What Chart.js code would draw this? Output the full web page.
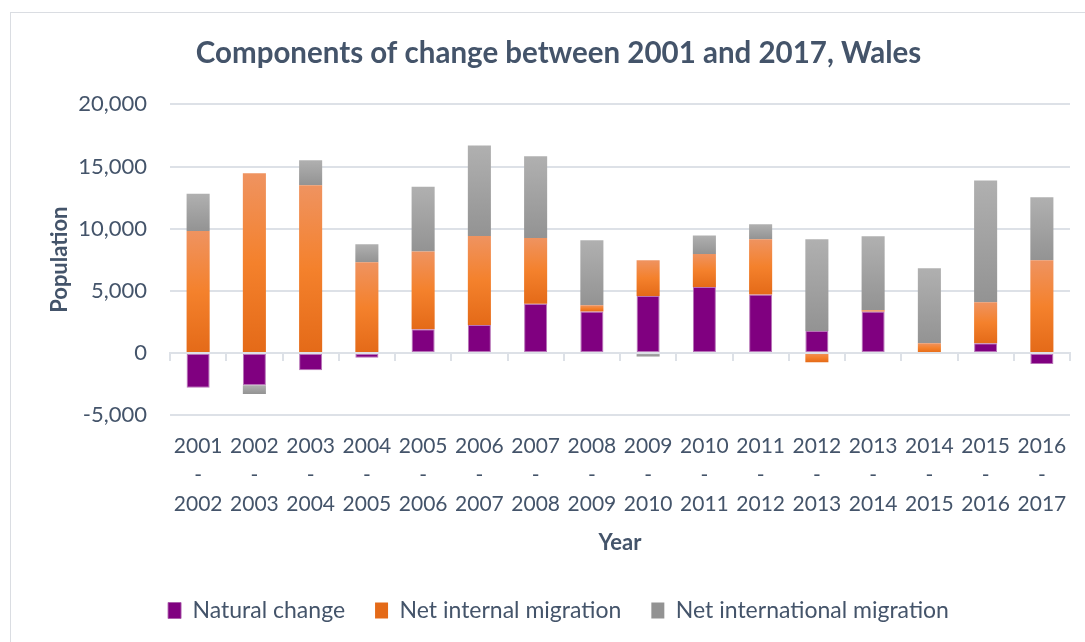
<!DOCTYPE html>
<html lang="en">

<head>
    <meta charset="UTF-8">
    <title>Components of change between 2001 and 2017, Wales</title>
    <style>
        body {
            margin: 0;
            padding: 0;
            background: #fff;
            overflow: hidden;
        }

        .frame {
            position: absolute;
            left: 10px;
            top: 12px;
            width: 1090px;
            height: 640px;
            border: 1px solid #dadde2;
        }
    </style>
</head>

<body>
    <div class="frame">
        <canvas id="changeChart" width="1090" height="640"></canvas>
    </div>

    <script src="https://cdn.jsdelivr.net/npm/chart.js"></script>

    <script>
        // Mid-year periods, split over three lines like the original axis
        const years = ['2001', '2002', '2003', '2004', '2005', '2006', '2007', '2008',
            '2009', '2010', '2011', '2012', '2013', '2014', '2015', '2016', '2017'];
        const periods = years.slice(0, -1).map((y, i) => [y, '-', years[i + 1]]);

        // Components of population change (persons)
        const naturalChange = [-2800, -2600, -1400, -400, 1900, 2250, 3950, 3330,
            4580, 5300, 4700, 1770, 3330, -100, 780, -900];
        const netInternal = [9800, 14450, 13500, 7300, 6250, 7150, 5300, 500,
            2870, 2650, 4450, -750, 100, 780, 3300, 7450];
        const netInternational = [3000, -700, 2000, 1450, 5220, 7300, 6570, 5230,
            -300, 1500, 1200, 7370, 5950, 6030, 9800, 5070];

        const yTicks = [-5000, 0, 5000, 10000, 15000, 20000];

        const allSeries = [naturalChange, netInternal, netInternational];
        const textColor = '#44546a';
        const gridColor = '#dde1e7';
        const fontFamily = 'Lato, "Open Sans", sans-serif';

        // start/end value of a segment inside its (positive or negative) stack
        function segmentRange(seriesIndex, i) {
            const v = allSeries[seriesIndex][i];
            let base = 0;
            for (let s = 0; s < seriesIndex; s++) {
                const w = allSeries[s][i];
                if ((w >= 0) === (v >= 0)) base += w;
            }
            return [base, base + v];
        }

        // vertical gradient per bar segment, lighter at the top
        function gradientFill(seriesIndex, stops, solid) {
            return ctx => {
                const chart = ctx.chart;
                const y = chart.scales.y;
                if (ctx.type !== 'data' || !y || y.top === undefined) return solid;
                const [a, b] = segmentRange(seriesIndex, ctx.dataIndex);
                const top = y.getPixelForValue(Math.max(a, b));
                const bottom = y.getPixelForValue(Math.min(a, b));
                if (!(bottom - top > 0)) return solid;
                const g = chart.ctx.createLinearGradient(0, top, 0, bottom);
                stops.forEach(([p, c]) => g.addColorStop(p, c));
                return g;
            };
        }

        const ctx = document.getElementById('changeChart').getContext('2d');
        new Chart(ctx, {
            type: 'bar',
            data: {
                labels: periods,
                datasets: [
                    {
                        label: 'Natural change',
                        data: naturalChange,
                        backgroundColor: '#800080',
                        borderColor: 'rgba(170, 90, 170, 0.85)',
                        borderWidth: 1,
                        borderSkipped: false
                    },
                    {
                        label: 'Net internal migration',
                        data: netInternal,
                        backgroundColor: gradientFill(1,
                            [[0, '#ef9360'], [0.5, '#f4812c'], [1, '#e46a18']], '#f07f2e')
                    },
                    {
                        label: 'Net international migration',
                        data: netInternational,
                        backgroundColor: gradientFill(2,
                            [[0, '#b0b0b0'], [1, '#939393']], '#a3a3a3')
                    }
                ]
            },
            options: {
                responsive: false,
                animation: false,
                datasets: {
                    bar: {
                        barPercentage: 0.41,
                        categoryPercentage: 1
                    }
                },
                layout: {
                    padding: { left: 36, right: 31, top: 0, bottom: 21 }
                },
                scales: {
                    x: {
                        stacked: true,
                        afterFit: scale => {
                            scale.height = 154;
                        },
                        grid: { display: false, drawTicks: false },
                        border: { display: false },
                        ticks: {
                            color: textColor,
                            font: { family: fontFamily, size: 21, lineHeight: 1.38 },
                            padding: 17,
                            maxRotation: 0,
                            autoSkip: false
                        },
                        title: {
                            display: true,
                            text: 'Year',
                            color: textColor,
                            font: { family: fontFamily, size: 22, weight: 'bold' },
                            padding: { top: 10, bottom: 13 }
                        }
                    },
                    // baseline with category tick marks at zero
                    x0: {
                        type: 'category',
                        position: { y: 0 },
                        grid: {
                            offset: true,
                            drawOnChartArea: false,
                            tickLength: 7,
                            color: gridColor,
                            lineWidth: 2
                        },
                        border: { color: gridColor, width: 2 },
                        ticks: { display: false }
                    },
                    y: {
                        stacked: true,
                        min: -5000,
                        max: 20000,
                        afterBuildTicks: scale => {
                            scale.ticks = yTicks.map(v => ({ value: v }));
                        },
                        afterFit: scale => {
                            scale.width = 123;
                        },
                        grid: {
                            color: gridColor,
                            lineWidth: 2,
                            drawTicks: false
                        },
                        border: { display: false },
                        ticks: {
                            color: textColor,
                            font: { family: fontFamily, size: 22 },
                            padding: 23,
                            callback: v => v.toLocaleString('en-US')
                        },
                        title: {
                            display: true,
                            text: 'Population',
                            color: textColor,
                            font: { family: fontFamily, size: 22, weight: 'bold' },
                            padding: 0
                        }
                    }
                },
                plugins: {
                    title: {
                        display: true,
                        text: 'Components of change between 2001 and 2017, Wales',
                        color: textColor,
                        font: { family: fontFamily, size: 29.5, weight: 'bold' },
                        padding: { top: 23, bottom: 33 }
                    },
                    legend: {
                        position: 'bottom',
                        labels: {
                            color: textColor,
                            font: { family: fontFamily, size: 23 },
                            boxWidth: 13,
                            boxHeight: 16,
                            padding: 30
                        }
                    },
                    tooltip: { enabled: false }
                }
            }
        });
    </script>
</body>

</html>
